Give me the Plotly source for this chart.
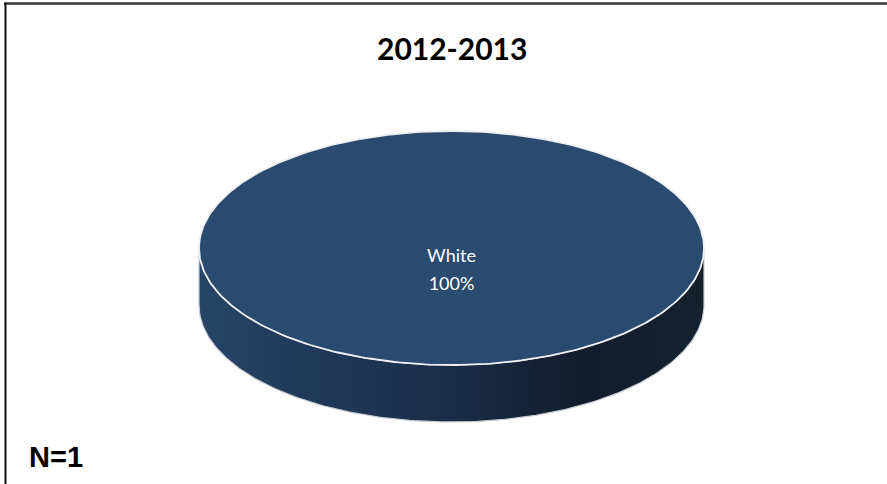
import numpy as np
import plotly.graph_objects as go

# Data
title_text = "2012-2013"
categories = ["White"]
counts = [1]
n_label = "N=1"

total = sum(counts)
shares = [c / total for c in counts]

# Canvas in pixel units
W, H = 887, 484
cx, cy = 451.5, 248.0      # centre of the top face
ra, rb = 252.5, 117.0      # semi-axes of the top face
depth = 57.0               # height of the extruded side

top_colors = ["#2A4A6F"]
side_scale = [[0.0, "#274468"], [0.2, "#213A5B"], [0.55, "#182A42"],
              [0.75, "#111D2D"], [1.0, "#14212F"]]

fig = go.Figure()

def wedge(t0, t1, n=361):
    t = np.linspace(t0, t1, n)
    x = cx + ra * np.cos(t)
    y = cy + rb * np.sin(t)
    if t1 - t0 < 2 * np.pi - 1e-9:
        x = np.concatenate([[cx], x, [cx]])
        y = np.concatenate([[cy], y, [cy]])
    return x, y

# Extruded side: the front half of the outline dropped by the depth
start = 0.0
for share in shares:
    t0, t1 = start, start + 2 * np.pi * share
    lo, hi = max(t0, 0.0), min(t1, np.pi)
    if hi > lo:
        t = np.linspace(lo, hi, 200)
        xs = cx + ra * np.cos(t)
        ys = cy + rb * np.sin(t)
        px = np.concatenate([xs, xs[::-1], xs[:1]])
        py = np.concatenate([ys, ys[::-1] + depth, ys[:1]])
        fig.add_trace(go.Scatter(
            x=px, y=py, mode="lines", fill="toself",
            fillgradient=dict(type="horizontal", colorscale=side_scale),
            line=dict(color="#C9CDD3", width=1.2),
            hoverinfo="skip", showlegend=False))
    start = t1

# Top face of each slice
start = 0.0
for i, share in enumerate(shares):
    t0, t1 = start, start + 2 * np.pi * share
    x, y = wedge(t0, t1)
    fig.add_trace(go.Scatter(
        x=x, y=y, mode="lines", fill="toself",
        fillcolor=top_colors[i % len(top_colors)],
        line=dict(color="#EEF0F3", width=1.8),
        hoverinfo="skip", showlegend=False))
    start = t1

# Slice labels
start = 0.0
for i, share in enumerate(shares):
    mid = start + np.pi * share
    if share >= 1:
        lx, ly = cx, cy
    else:
        lx, ly = cx + 0.6 * ra * np.cos(mid), cy + 0.6 * rb * np.sin(mid)
    fig.add_trace(go.Scatter(
        x=[lx, lx], y=[ly + 9, ly + 37], mode="text",
        text=[categories[i], f"{share * 100:.0f}%"],
        textfont=dict(family="Lato", size=18, color="#FFFFFF"),
        hoverinfo="skip", showlegend=False))
    start += 2 * np.pi * share

fig.update_layout(
    width=W, height=H,
    margin=dict(l=0, r=0, t=0, b=0),
    paper_bgcolor="white", plot_bgcolor="white",
    xaxis=dict(range=[0, W], visible=False, fixedrange=True),
    yaxis=dict(range=[H, 0], visible=False, fixedrange=True),
    annotations=[
        dict(text=f"<b>{title_text}</b>", x=452, y=48, xref="x", yref="y",
             showarrow=False, font=dict(family="Lato", size=30, color="#000000")),
        dict(text=f"<b>{n_label}</b>", x=27, y=457, xref="x", yref="y",
             xanchor="left", showarrow=False,
             font=dict(family="Liberation Sans", size=29, color="#000000")),
    ],
    shapes=[
        dict(type="line", xref="x", yref="y", x0=4, x1=W, y0=3.5, y1=3.5,
             line=dict(color="#333333", width=2.5)),
        dict(type="line", xref="x", yref="y", x0=5.5, x1=5.5, y0=3, y1=H,
             line=dict(color="#111111", width=2)),
    ],
)

fig.write_html("out.html")
